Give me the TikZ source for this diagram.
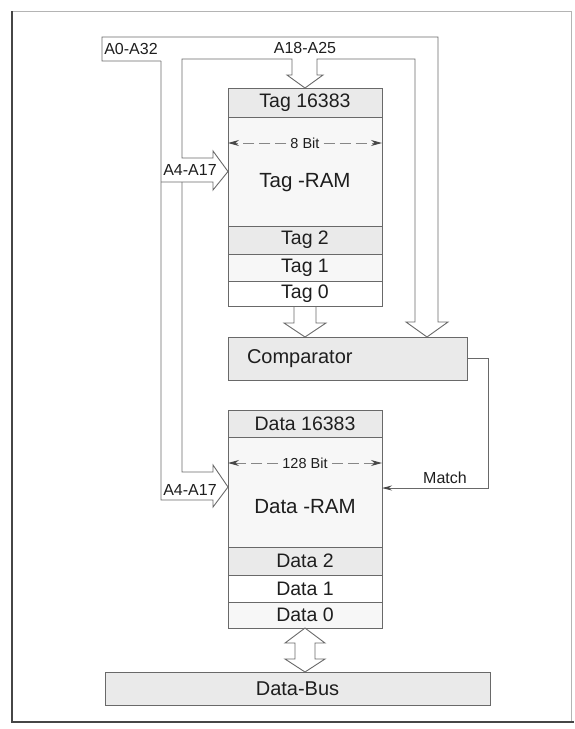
\documentclass[tikz,border=0pt]{standalone}
\usepackage{fontspec}
\setmainfont{Liberation Sans}
\usetikzlibrary{arrows.meta,positioning,calc}
\definecolor{wire}{RGB}{105,105,105}
\definecolor{tipgray}{RGB}{70,70,70}
\definecolor{frameline}{RGB}{70,70,70}
\definecolor{shade}{RGB}{234,234,234}
\definecolor{paleshade}{RGB}{247,247,247}
\definecolor{ink}{RGB}{30,30,30}
\tikzset{
  cell/.style={draw=wire,line width=0.9pt,fill=shade,minimum width=154pt,inner sep=0pt,outer sep=0pt,text=ink,font=\fontsize{19.5}{19.5}\selectfont},
  pale/.style={cell,fill=paleshade},
  blank/.style={cell,fill=white},
  lbl/.style={text=ink,inner sep=0pt,font=\fontsize{20.5}{20.5}\selectfont},
  sig/.style={text=ink,inner sep=1pt,font=\fontsize{16}{16}\selectfont},
  bitlbl/.style={text=ink,inner sep=4pt,font=\fontsize{14.5}{14.5}\selectfont},
  wiring/.style={draw=wire,line width=0.9pt},
  dimarr/.style={-{Stealth[length=11pt,width=6pt,color=tipgray]},draw=wire!80,line width=1pt,dash pattern=on 11pt off 5pt},
  matcharr/.style={-{Stealth[length=10pt,width=5pt,color=tipgray]},draw=wire,line width=0.9pt}
}
\begin{document}
\begin{tikzpicture}[x=1pt,y=-1pt]
  \useasboundingbox (0,0) rectangle (574,729);
  % frame
  \draw[wire!50,line width=0.8pt] (12,11) -- (571,11) -- (571,722);
  \draw[frameline,line width=1.4pt] (12,11) -- (12,722) -- (574,722);

  % tag ram
  \node[cell,minimum height=29pt] (tagtop) at (305,102.5) {Tag 16383};
  \node[pale,minimum height=109pt,below=0pt of tagtop] (tagbody) {};
  \node[cell,minimum height=28pt,below=0pt of tagbody] (tag2) {Tag 2};
  \node[pale,minimum height=27pt,below=0pt of tag2] (tag1) {Tag 1};
  \node[blank,minimum height=25pt,below=0pt of tag1] (tag0) {Tag 0};
  \node[bitlbl] (tagbits) at ($(tagbody.north)+(0,26)$) {8 Bit};
  \node[lbl] (tagname) at ($(tagbody.center)+(0,11.5)$) {Tag -RAM};
  \draw[dimarr] (tagbits.west) -- (tagbits.west -| tagbody.west);
  \draw[dimarr] (tagbits.east) -- (tagbits.east -| tagbody.east);

  % comparator
  \node[cell,minimum width=239pt,minimum height=43pt,text width=201pt,inner xsep=19pt,align=left,font=\fontsize{20}{20}\selectfont] (comp) at (347.5,358.5) {Comparator};

  % data ram
  \node[cell,minimum height=27pt] (datatop) at (305,423.5) {Data 16383};
  \node[pale,minimum height=110pt,below=0pt of datatop] (databody) {};
  \node[cell,minimum height=28pt,below=0pt of databody] (data2) {Data 2};
  \node[blank,minimum height=27pt,below=0pt of data2] (data1) {Data 1};
  \node[pale,minimum height=26pt,below=0pt of data1] (data0) {Data 0};
  \node[bitlbl] (databits) at ($(databody.north)+(0,26)$) {128 Bit};
  \node[lbl] (dataname) at ($(databody.center)+(0,15)$) {Data -RAM};
  \draw[dimarr] (databits.west) -- (databits.west -| databody.west);
  \draw[dimarr] (databits.east) -- (databits.east -| databody.east);

  \node[cell,minimum width=385pt,minimum height=33pt,font=\fontsize{20}{20}\selectfont] (bus) at (297.5,688.5) {Data-Bus};

  % address lines
  \draw[wiring] (161,61) -- (102,61) -- (102,37) -- (438,37) -- (438,322) -- (448,322)
    -- ($(comp.north west)+(199,0)$) -- (406,322) -- (415,322) -- (415,59) -- (317,59)
    -- (317,75) -- (323,75) -- (tagtop.north) -- (287,75) -- (292,75) -- (292,59)
    -- (182,59) -- (182,158) -- (213,158) -- (213,151) -- (tagbody.west) -- (213,190)
    -- (213,182) -- (161,182);
  \draw[wiring] (161,61) -- (161,500) -- (213,500) -- (213,507)
    -- ($(databody.west)+(0,-5)$) -- (213,465) -- (213,472) -- (182,472) -- (182,182);

  % tag to comparator
  \draw[wiring] ($(tag0.south)+(-11,0)$) -- ++(0,17) -- ++(-10,0) -- (tag0.south |- comp.north)
    -- ++(21,-14) -- ++(-10,0) -- ($(tag0.south)+(11,0)$);

  % data to bus
  \draw[wiring,fill=white] (data0.south) -- ++(20,15) -- ++(-10,0) -- ++(0,16) -- ++(10,0)
    -- (data0.south |- bus.north) -- ++(-20,-13) -- ++(10,0) -- ++(0,-16) -- ++(-10,0) -- cycle;

  % match
  \draw[matcharr] (comp.east) -- ++(21,0) |- ($(databody.east)+(0,-4)$);

  \node[sig] (a032) at (131,49) {A0-A32};
  \node[sig] (a1825) at (305,48) {A18-A25};
  \node[sig] (a417t) at (190,170) {A4-A17};
  \node[sig] (a417d) at (190,490) {A4-A17};
  \node[sig,anchor=south] (match) at ($(databody.east)+(63,-7)$) {Match};
\end{tikzpicture}
\end{document}
